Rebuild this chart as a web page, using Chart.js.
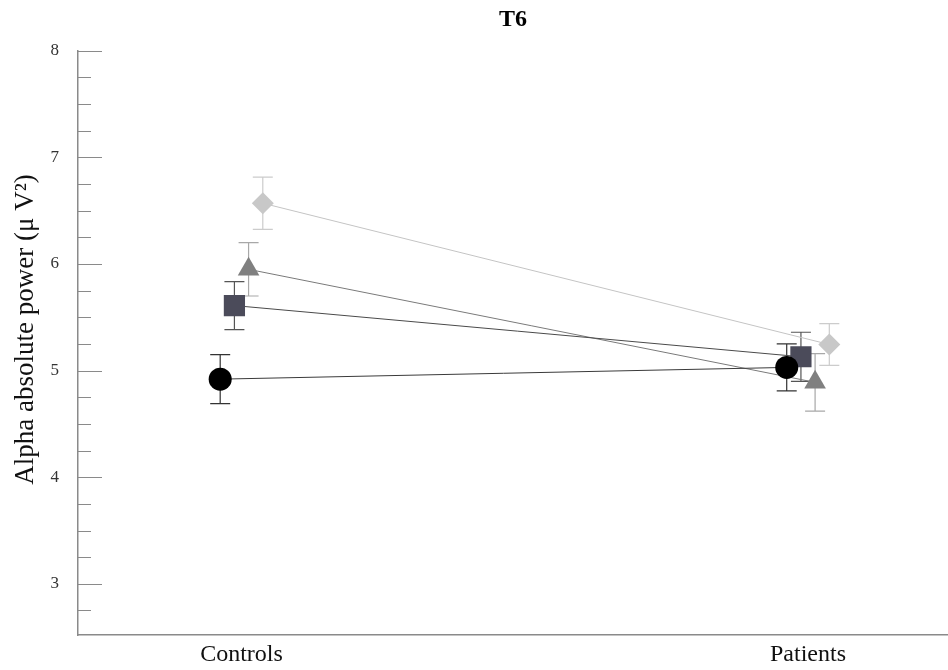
<html lang="en">
<head>
    <meta charset="UTF-8">
    <script src="https://cdn.jsdelivr.net/npm/chart.js@4.4.0/dist/chart.umd.min.js"></script>
    <title>T6</title>
    <style>
        body { margin: 0; background: #fff; }
        #wrap { width: 948px; height: 670px; }
    </style>
</head>
<body>
    <div id="wrap"><canvas id="myChart"></canvas></div>

    <script>
        // groups on the x axis
        var groups = ['Controls', 'Patients'];

        // means and error (half-length of bar) per series
        var circleMeans = [4.92, 5.03];
        var circleErr = [0.23, 0.22];
        var squareMeans = [5.61, 5.13];
        var squareErr = [0.225, 0.23];
        var triangleMeans = [5.95, 4.89];
        var triangleErr = [0.25, 0.27];
        var diamondMeans = [6.57, 5.245];
        var diamondErr = [0.245, 0.195];

        var yTickLabels = [3, 4, 5, 6, 7, 8];

        // small horizontal dodge so the markers don't sit on each other
        var dodge = [-0.0376, -0.0125, 0.0125, 0.0376];

        // don't let the big markers push the plot away from the right edge
        Chart.registry.getController('scatter').prototype.getMaxOverflow = function () { return 0; };

        function pts(means, errs, k) {
            return means.map(function (m, i) {
                return { x: i + dodge[k], y: m, err: errs[i] };
            });
        }

        function series(label, means, errs, k, style, radius, fill, line, barColor) {
            return {
                label: label,
                data: pts(means, errs, k),
                pointStyle: style,
                pointRadius: radius,
                pointHoverRadius: radius,
                pointBackgroundColor: fill,
                pointBorderColor: fill,
                pointBorderWidth: 0,
                borderColor: line,
                borderWidth: 1,
                showLine: true,
                fill: false,
                errColor: barColor
            };
        }

        var errorBars = {
            id: 'errorBars',
            beforeDatasetsDraw: function (chart) {
                var ctx = chart.ctx;
                var xs = chart.scales.x, ys = chart.scales.y;
                ctx.save();
                ctx.lineWidth = 1.2;
                chart.data.datasets.forEach(function (ds) {
                    ctx.strokeStyle = ds.errColor;
                    ds.data.forEach(function (p) {
                        var px = xs.getPixelForValue(p.x);
                        var top = ys.getPixelForValue(p.y + p.err);
                        var bot = ys.getPixelForValue(p.y - p.err);
                        ctx.beginPath();
                        ctx.moveTo(px, top); ctx.lineTo(px, bot);
                        ctx.moveTo(px - 10, top); ctx.lineTo(px + 10, top);
                        ctx.moveTo(px - 10, bot); ctx.lineTo(px + 10, bot);
                        ctx.stroke();
                    });
                });
                ctx.restore();
            }
        };

        // ticks drawn inward from the y axis
        var innerTicks = {
            id: 'innerTicks',
            afterDraw: function (chart) {
                var ctx = chart.ctx;
                var ys = chart.scales.y;
                var left = chart.chartArea.left;
                ctx.save();
                ctx.strokeStyle = '#8a8a8a';
                ctx.lineWidth = 1;
                ys.ticks.forEach(function (t) {
                    if (t.value <= ys.min) return;
                    var py = Math.round(ys.getPixelForValue(t.value)) + 0.5;
                    var major = yTickLabels.indexOf(t.value) >= 0;
                    ctx.beginPath();
                    ctx.moveTo(left, py);
                    ctx.lineTo(left + (major ? 24 : 13), py);
                    ctx.stroke();
                });
                ctx.restore();
            }
        };

        var serif = "'Liberation Serif', 'DejaVu Serif', serif";

        new Chart(document.getElementById('myChart'), {
            type: 'scatter',
            data: {
                datasets: [
                    series('circle', circleMeans, circleErr, 0, 'circle', 11.5, '#000000', '#3a3a3a', '#333333'),
                    series('square', squareMeans, squareErr, 1, 'rect', 15, '#4b4b5a', '#4a4a4a', '#555555'),
                    series('triangle', triangleMeans, triangleErr, 2, 'triangle', 12.5, '#808080', '#7a7a7a', '#a8a8a8'),
                    series('diamond', diamondMeans, diamondErr, 3, 'rectRot', 11, '#c8c8c8', '#c4c4c4', '#cccccc')
                ]
            },
            options: {
                responsive: true,
                maintainAspectRatio: false,
                animation: false,
                layout: { padding: 0 },
                plugins: {
                    legend: { display: false },
                    tooltip: { enabled: false },
                    title: {
                        display: true,
                        text: 'T6',
                        fullSize: false,
                        color: '#000',
                        font: { family: serif, size: 24, weight: 'bold' },
                        padding: { top: 5, bottom: 17 }
                    }
                },
                scales: {
                    x: {
                        type: 'linear',
                        min: -0.2886,
                        max: 1.2471,
                        afterBuildTicks: function (scale) {
                            scale.ticks = groups.map(function (g, i) { return { value: i }; });
                        },
                        afterFit: function (scale) { scale.height = 35; },
                        grid: { display: true, drawOnChartArea: false, drawTicks: false },
                        border: { display: true, color: '#8a8a8a', width: 1.5 },
                        ticks: {
                            padding: 5,
                            color: '#111',
                            font: { family: serif, size: 24 },
                            callback: function (v) { return groups[v]; }
                        }
                    },
                    y: {
                        min: 2.52,
                        max: 8,
                        afterFit: function (scale) { scale.width = 78; },
                        afterBuildTicks: function (scale) {
                            var t = [];
                            for (var v = 2.75; v <= 8.001; v += 0.25) t.push({ value: Math.round(v * 100) / 100 });
                            scale.ticks = t;
                        },
                        grid: { display: true, drawOnChartArea: false, drawTicks: false },
                        border: { display: true, color: '#8a8a8a', width: 1.5 },
                        ticks: {
                            autoSkip: false,
                            padding: 19,
                            color: '#333',
                            font: { family: serif, size: 17 },
                            callback: function (v) {
                                return yTickLabels.indexOf(v) >= 0 ? String(v) : '';
                            }
                        },
                        title: {
                            display: true,
                            // leading em space nudges the rotated title up a little
                            text: '\u2003Alpha absolute power (\u03bc V\u00b2)',
                            color: '#111',
                            font: { family: serif, size: 27 },
                            padding: { top: 10, bottom: 0 }
                        }
                    }
                }
            },
            plugins: [errorBars, innerTicks]
        });
    </script>
</body>
</html>
